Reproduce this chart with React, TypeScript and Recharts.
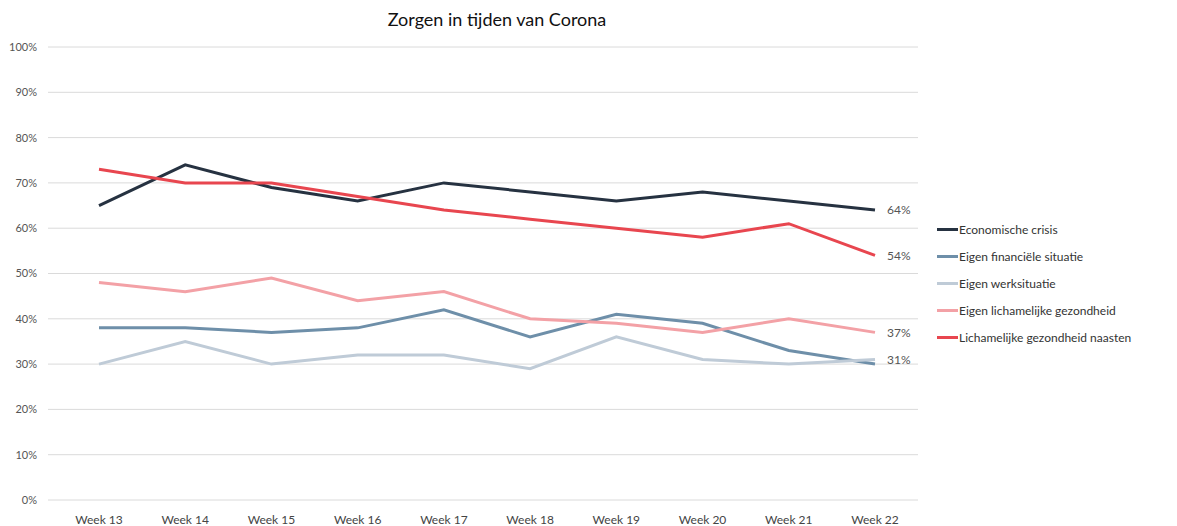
import { LineChart, Line, XAxis, YAxis, CartesianGrid } from "recharts"

const weeks = ["Week 13", "Week 14", "Week 15", "Week 16", "Week 17", "Week 18", "Week 19", "Week 20", "Week 21", "Week 22"]

const economischeCrisis = [65, 74, 69, 66, 70, 68, 66, 68, 66, 64]
const eigenFinancieel = [38, 38, 37, 38, 42, 36, 41, 39, 33, 30]
const eigenWerk = [30, 35, 30, 32, 32, 29, 36, 31, 30, 31]
const eigenGezondheid = [48, 46, 49, 44, 46, 40, 39, 37, 40, 37]
const gezondheidNaasten = [73, 70, 70, 67, 64, 62, 60, 58, 61, 54]

const yTicks = [0, 10, 20, 30, 40, 50, 60, 70, 80, 90, 100]

const SERIES = [
  { key: "eco", name: "Economische crisis", color: "#263241", values: economischeCrisis, endLabel: true },
  { key: "fin", name: "Eigen financiële situatie", color: "#6e8fa9", values: eigenFinancieel, endLabel: false },
  { key: "werk", name: "Eigen werksituatie", color: "#bfcbd7", values: eigenWerk, endLabel: true },
  { key: "gez", name: "Eigen lichamelijke gezondheid", color: "#f3a1a6", values: eigenGezondheid, endLabel: true },
  { key: "naast", name: "Lichamelijke gezondheid naasten", color: "#e8464f", values: gezondheidNaasten, endLabel: true },
]

const data = weeks.map((week, i) => {
  const row: Record<string, string | number> = { week }
  SERIES.forEach((s) => {
    row[s.key] = s.values[i]
  })
  return row
})

const FONT = "Lato, 'Noto Sans', sans-serif"

function EndLabel(props: any) {
  const { x, y, value, index } = props
  if (index !== weeks.length - 1) return null
  return (
    <text x={x + 12} y={y} dy="0.35em" fontSize={12} fill="#555" fontFamily={FONT}>
      {value}%
    </text>
  )
}

export default function App() {
  return (
    <div style={{ position: "absolute", left: 0, top: 0, width: 1177, height: 526, background: "#fff" }}>
      <div
        style={{
          position: "absolute",
          top: 8,
          left: 0,
          width: 994,
          textAlign: "center",
          fontFamily: FONT,
          fontSize: 18,
          color: "#111",
        }}
      >
        Zorgen in tijden van Corona
      </div>
      <LineChart
        width={1177}
        height={526}
        data={data}
        margin={{ top: 47, right: 259, bottom: 0, left: 0 }}
      >
        <CartesianGrid horizontal vertical={false} stroke="#dadada" strokeWidth={1} />
        <XAxis
          dataKey="week"
          tickLine={false}
          axisLine={false}
          height={26}
          tickMargin={9}
          padding={{ left: 51, right: 43 }}
          interval={0}
          tick={{ fontSize: 12, fill: "#444", fontFamily: FONT }}
        />
        <YAxis
          domain={[0, 100]}
          ticks={yTicks}
          tickFormatter={(v: number) => `${v}%`}
          tickLine={false}
          axisLine={false}
          width={48}
          tickMargin={5}
          tick={{ fontSize: 11, fill: "#555", fontFamily: FONT }}
        />
        {SERIES.map((s) => (
          <Line
            key={s.key}
            dataKey={s.key}
            name={s.name}
            stroke={s.color}
            strokeWidth={3}
            dot={false}
            activeDot={false}
            isAnimationActive={false}
            label={s.endLabel ? <EndLabel /> : false}
          />
        ))}
      </LineChart>
      <div
        style={{
          position: "absolute",
          left: 937,
          top: 216,
          fontFamily: FONT,
          fontSize: 12,
          color: "#333",
        }}
      >
        {SERIES.map((s) => (
          <div key={s.key} style={{ display: "flex", alignItems: "center", height: 27 }}>
            <div style={{ width: 21, height: 3, background: s.color, marginRight: 1 }} />
            <span>{s.name}</span>
          </div>
        ))}
      </div>
    </div>
  )
}
